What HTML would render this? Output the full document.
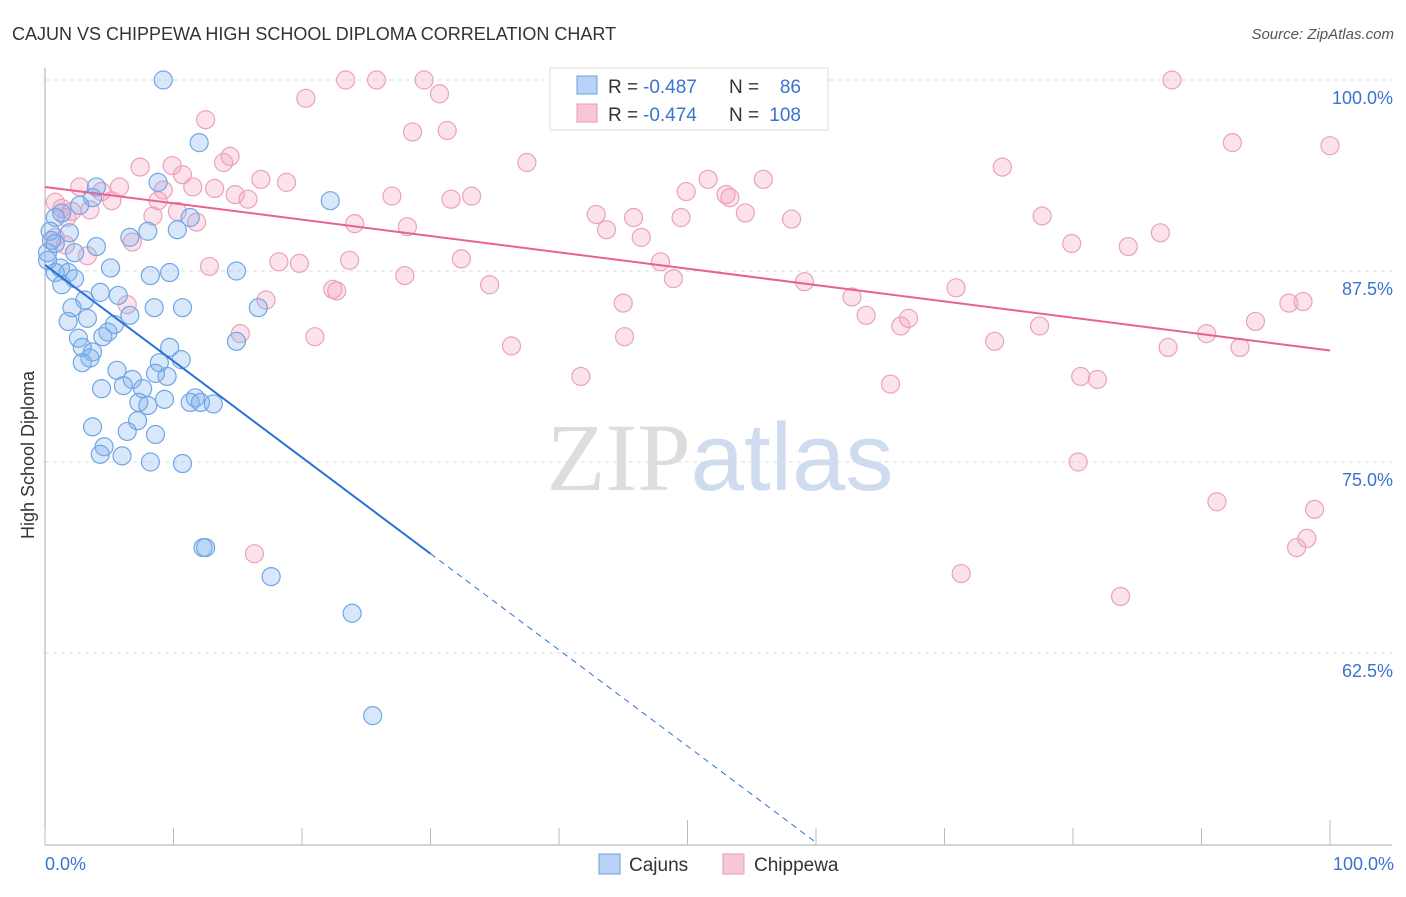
<!DOCTYPE html>
<html><head><meta charset="utf-8"><style>
body{margin:0;background:#fff;font-family:"Liberation Sans",sans-serif}
svg text{font-family:"Liberation Sans",sans-serif}
</style></head><body>
<svg id="chart" width="1406" height="892" xmlns="http://www.w3.org/2000/svg">
<text x="12" y="40" font-size="18" fill="#333">CAJUN VS CHIPPEWA HIGH SCHOOL DIPLOMA CORRELATION CHART</text>
<text x="1394" y="39" font-size="15" fill="#555" text-anchor="end" font-style="italic">Source: ZipAtlas.com</text>
<text x="720" y="490" font-size="96" text-anchor="middle"><tspan fill="#ddd" font-family="Liberation Serif">ZIP</tspan><tspan fill="#cfdcf0">atlas</tspan></text>
<text transform="translate(34,455) rotate(-90)" font-size="18" fill="#333" text-anchor="middle">High School Diploma</text>
<g id="grid"></g><g id="pts"></g><g id="lines"></g>
<g>
<rect x="550" y="68" width="278" height="62" fill="#fff" stroke="#ddd"/>
<rect x="577" y="76" width="20" height="18" fill="#b8d3f5" stroke="#6a9fe0"/>
<rect x="577" y="104" width="20" height="18" fill="#f9c6d6" stroke="#e99ab5"/>
<text x="608" y="93" font-size="19" fill="#333">R =</text>
<text x="643" y="93" font-size="19" fill="#3a73d0">-0.487</text>
<text x="729" y="93" font-size="19" fill="#333">N =</text>
<text x="801" y="93" font-size="19" fill="#3a73d0" text-anchor="end">86</text>
<text x="608" y="121" font-size="19" fill="#333">R =</text>
<text x="643" y="121" font-size="19" fill="#3a73d0">-0.474</text>
<text x="729" y="121" font-size="19" fill="#333">N =</text>
<text x="801" y="121" font-size="19" fill="#3a73d0" text-anchor="end">108</text>
</g>
<g>
<rect x="599" y="854" width="21" height="20" fill="#b8d3f5" stroke="#6a9fe0"/>
<text x="629" y="871" font-size="19" fill="#333">Cajuns</text>
<rect x="723" y="854" width="21" height="20" fill="#f9c6d6" stroke="#e99ab5"/>
<text x="754" y="871" font-size="19" fill="#333">Chippewa</text>
</g>
<text x="45" y="870" font-size="18" fill="#3a73d0">0.0%</text>
<text x="1394" y="870" font-size="18" fill="#3a73d0" text-anchor="end">100.0%</text>
</svg>
<script>
const yTicks=[100,87.5,75,62.5];
const yTickLabels=["100.0%","87.5%","75.0%","62.5%"];
const xTicks=[0,10,20,30,40,50,60,70,80,90,100];
const cajunX=[9.2,12.0,22.2,4.0,3.7,2.7,1.3,0.8,0.4,1.9,0.8,4.0,2.3,6.6,10.3,8.0,11.3,8.8,1.2,0.8,1.8,5.1,8.2,9.7,14.9,1.3,2.3,4.3,3.1,2.1,5.7,8.5,10.7,16.6,1.8,3.3,5.4,4.9,2.6,4.5,6.6,14.9,2.9,3.7,3.5,2.9,9.7,8.9,10.6,5.6,8.6,6.8,9.5,4.4,6.1,7.6,7.3,9.3,11.3,11.7,12.1,13.1,8.0,7.2,3.7,6.4,8.6,4.6,4.3,6.0,8.2,10.7,12.3,12.5,17.6,23.9,25.5,0.2,0.2,0.5];
const cajunY=[100,95.9,92.1,93.0,92.3,91.8,91.3,91.0,90.1,90.0,89.3,89.1,88.7,89.7,90.2,90.1,91.0,93.3,87.7,87.4,87.4,87.7,87.2,87.4,87.5,86.6,87.0,86.1,85.6,85.1,85.9,85.1,85.1,85.1,84.2,84.4,84.0,83.5,83.1,83.2,84.6,82.9,82.5,82.2,81.8,81.5,82.5,81.5,81.7,81.0,80.8,80.4,80.6,79.8,80.0,79.8,78.9,79.1,78.9,79.2,78.9,78.8,78.7,77.7,77.3,77.0,76.8,76.0,75.5,75.4,75.0,74.9,69.4,69.4,67.5,65.1,58.4,88.2,88.7,89.5];
const chipX=[23.4,25.8,29.5,87.7,20.3,30.7,12.5,28.6,31.3,92.4,100,37.5,14.4,13.9,9.9,7.4,10.7,74.5,16.8,18.8,9.2,13.2,11.5,14.8,5.8,4.4,2.7,5.2,3.5,0.8,1.3,2.1,1.7,8.8,15.8,27.0,33.2,31.6,49.9,51.6,53.0,53.3,55.9,42.9,45.8,49.5,54.5,58.1,77.6,8.4,10.3,11.8,24.1,28.2,43.7,46.4,86.8,79.9,84.3,0.8,1.6,6.8,3.3,12.8,18.2,19.8,23.7,32.4,28.0,47.9,48.9,59.1,34.6,22.4,22.7,70.9,17.2,6.4,45.0,97.9,96.8,62.8,63.9,67.2,66.6,94.2,15.2,21.0,45.1,90.4,36.3,77.4,73.9,87.4,93.0,41.7,65.8,80.6,81.9,80.4,91.2,98.8,98.2,97.4,16.3,71.3,83.7];
const chipY=[100,100,100,100,98.8,99.1,97.4,96.6,96.7,95.9,95.7,94.6,95.0,94.6,94.4,94.3,93.8,94.3,93.5,93.3,92.8,92.9,93.0,92.5,93.0,92.7,93.0,92.1,91.5,92.0,91.6,91.4,91.0,92.1,92.2,92.4,92.4,92.2,92.7,93.5,92.5,92.3,93.5,91.2,91.0,91.0,91.3,90.9,91.1,91.1,91.4,90.7,90.6,90.4,90.2,89.7,90.0,89.3,89.1,89.7,89.2,89.4,88.5,87.8,88.1,88.0,88.2,88.3,87.2,88.1,87.0,86.8,86.6,86.3,86.2,86.4,85.6,85.3,85.4,85.5,85.4,85.8,84.6,84.4,83.9,84.2,83.4,83.2,83.2,83.4,82.6,83.9,82.9,82.5,82.5,80.6,80.1,80.6,80.4,75.0,72.4,71.9,70.0,69.4,69.0,67.7,66.2];
const cajunTrend=[87.9,-0.63];
const chipTrend=[93.0,-0.107];
const NS="http://www.w3.org/2000/svg";
const X=v=>45+v*12.85, Y=v=>80+(100-v)*15.28;
function mk(t,a,p){const e=document.createElementNS(NS,t);for(const k in a)e.setAttribute(k,a[k]);p.appendChild(e);return e;}
const grid=document.getElementById('grid');
yTicks.forEach((t,i)=>{
 const l=mk('line',{x1:45,x2:1392,y1:Y(t),y2:Y(t),stroke:'#ddd','stroke-dasharray':'4,4'},grid);
 
 
 const tx=mk('text',{x:1393,y:Y(t)+24,'font-size':18,fill:'#3a73d0','text-anchor':'end'},grid);
 tx.textContent=yTickLabels[i];
 
 
});
const ax=mk('line',{x1:45,x2:45,y1:68,y2:845,stroke:'#aaa'},grid);


const bx=mk('line',{x1:45,x2:1392,y1:845,y2:845,stroke:'#aaa'},grid);


xTicks.forEach(t=>{
 const long=(t===50||t===100);
 const l=mk('line',{x1:X(t),x2:X(t),y1:long?820:828,y2:845,stroke:'#bbb'},grid);
 
 
});
const pts=document.getElementById('pts');
chipX.forEach((x,i)=>{
 const c=mk('circle',{cx:X(x),cy:Y(chipY[i]),r:9,fill:'rgba(244,160,188,0.3)',stroke:'#eba2bb','stroke-width':1.2},pts);
 
 
});
cajunX.forEach((x,i)=>{
 const c=mk('circle',{cx:X(x),cy:Y(cajunY[i]),r:9,fill:'rgba(125,175,238,0.3)',stroke:'#70a6e6','stroke-width':1.2},pts);
 
 
});
const lines=document.getElementById('lines');
const ct=v=>cajunTrend[0]+cajunTrend[1]*v, pt=v=>chipTrend[0]+chipTrend[1]*v;
const l1=mk('line',{x1:X(0),y1:Y(ct(0)),x2:X(30),y2:Y(ct(30)),stroke:'#2a72d6','stroke-width':2},lines);


const l2=mk('line',{x1:X(30),y1:Y(ct(30)),x2:X(60),y2:Y(ct(60)),stroke:'#2a72d6','stroke-width':1,'stroke-dasharray':'6,5'},lines);


const l3=mk('line',{x1:X(0),y1:Y(pt(0)),x2:X(100),y2:Y(pt(100)),stroke:'#e8628f','stroke-width':2},lines);


</script>
</body></html>
